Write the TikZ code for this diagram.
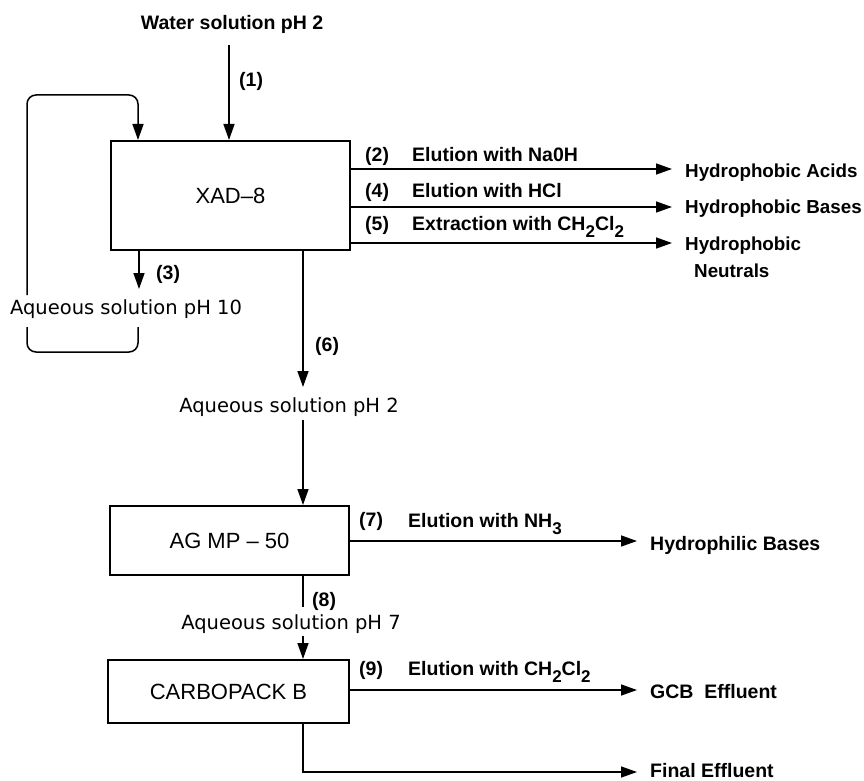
\documentclass[tikz,border=0pt]{standalone}
\usepackage{fontspec}
\setmainfont{Liberation Sans}
\newfontfamily\aqfont{DejaVu Sans}
\usetikzlibrary{arrows.meta}
\newcommand\lowidx[1]{\raisebox{-7pt}{\fontsize{17}{17}\selectfont #1}}
\begin{document}
\begin{tikzpicture}[x=1pt,y=-1pt,
  lbl/.style={inner sep=0pt, font=\fontsize{19.5}{22}\selectfont\bfseries, anchor=base west},
  rlbl/.style={lbl, font=\fontsize{18.8}{22}\selectfont\bfseries},
  aq/.style={inner sep=0pt, font=\fontsize{19.5}{22}\selectfont\aqfont, anchor=base},
  box/.style={draw, line width=2pt, inner sep=0pt, font=\fontsize{22}{24}\selectfont},
  flow/.style={line width=1.5pt},
  arr/.style={flow, -{Triangle[length=16pt,width=11pt]}}]
\useasboundingbox (0,0) rectangle (864,781);

% boxes
\node[box, minimum width=239pt, minimum height=109pt] (xad) at (230.5,195.5) {XAD--8};
\node[box, minimum width=239pt, minimum height=69pt] (ag) at (229.5,540.5) {AG MP -- 50};
\node[box, minimum width=241pt, minimum height=63pt] (cb) at (228.5,691.5) {CARBOPACK B};

% texts
\node[lbl, anchor=base] (water) at (232,30) {Water solution pH 2};
\node[lbl] (n1) at (239,87) {(1)};
\node[lbl] (n2) at (365,161) {(2)};
\node[lbl] (t2) at (412,161) {Elution with Na0H};
\node[lbl] (n4) at (365,197) {(4)};
\node[lbl] (t4) at (412,197) {Elution with HCl};
\node[lbl] (n5) at (365,230) {(5)};
\node[lbl] (t5) at (412,230) {Extraction with CH\lowidx{2}Cl\lowidx{2}};
\node[rlbl] (r2) at (685,177) {Hydrophobic Acids};
\node[rlbl] (r4) at (685,213) {Hydrophobic Bases};
\node[rlbl] (r5) at (685,250) {Hydrophobic};
\node[rlbl] (r5b) at (694,277) {Neutrals};
\node[lbl] (n3) at (156,279) {(3)};
\node[aq] (aq10) at (126,314) {Aqueous solution pH 10};
\node[lbl] (n6) at (315,351) {(6)};
\node[aq] (aq2) at (289,412) {Aqueous solution pH 2};
\node[lbl] (n7) at (359,526) {(7)};
\node[lbl] (t7) at (408,527) {Elution with NH\lowidx{3}};
\node[lbl] (r7) at (650,550) {Hydrophilic Bases};
\node[lbl] (n8) at (312,606) {(8)};
\node[aq] (aq7) at (291,629) {Aqueous solution pH 7};
\node[lbl] (n9) at (359,675) {(9)};
\node[lbl] (t9) at (408,675) {Elution with CH\lowidx{2}Cl\lowidx{2}};
\node[lbl] (r9) at (650,698) {GCB\ \ Effluent};
\node[lbl] (rf) at (650,777) {Final Effluent};

% coordinates
\coordinate (s1) at (229,45);
\coordinate (lpA) at (27,295);
\coordinate (lpB) at (27,95);
\coordinate (lpC) at (138,95);
\coordinate (lqA) at (27,327);
\coordinate (lqB) at (27,352);
\coordinate (lqC) at (138,352);
\coordinate (lqD) at (138,327);
\coordinate (e3) at (139,289);
\coordinate (e6) at (303,387);
\coordinate (s6b) at (303,420);
\coordinate (e8) at (303,607);
\coordinate (s8b) at (303,636);
\coordinate (fc) at (303,772);
\coordinate (a2) at (672,169);
\coordinate (a4) at (672,207);
\coordinate (a5) at (672,243);
\coordinate (a7) at (637,541);
\coordinate (a9) at (637,690);
\coordinate (af) at (637,772);

% connectors
\draw[arr] (s1) -- (s1 |- xad.north);
\draw[arr, rounded corners=9pt] (lpA) -- (lpB) -- (lpC) -- (lpC |- xad.north);
\draw[flow, rounded corners=9pt] (lqA) -- (lqB) -- (lqC) -- (lqD);
\draw[arr] (xad.south -| e3) -- (e3);
\draw[arr] (xad.south -| e6) -- (e6);
\draw[arr] (s6b) -- (s6b |- ag.north);
\draw[arr] (a2 -| xad.east) -- (a2);
\draw[arr] (a4 -| xad.east) -- (a4);
\draw[arr] (a5 -| xad.east) -- (a5);
\draw[arr] (a7 -| ag.east) -- (a7);
\draw[flow] (ag.south -| e8) -- (e8);
\draw[arr] (s8b) -- (s8b |- cb.north);
\draw[arr] (a9 -| cb.east) -- (a9);
\draw[arr] (cb.south -| fc) -- (fc) -- (af);
\end{tikzpicture}
\end{document}
